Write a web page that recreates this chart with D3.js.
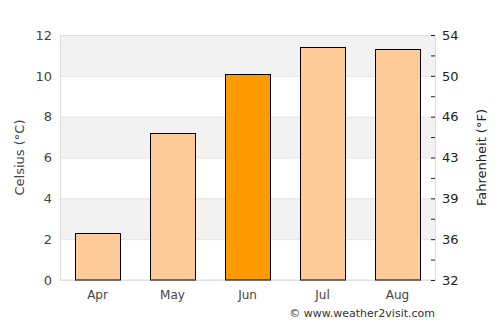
<!DOCTYPE html>
<html>
<head>
<meta charset="utf-8">
<script src="https://cdn.jsdelivr.net/npm/d3@7"></script>
<style>
  body { margin: 0; background: #fff; }
  text { font-family: "DejaVu Sans", sans-serif; }
</style>
</head>
<body>
<div id="vis"><svg></svg></div>
<script>
// data
const months = ["Apr", "May", "Jun", "Jul", "Aug"];
const celsius = [2.3, 7.2, 10.1, 11.4, 11.3];
const highlight = "Jun";
const cTicks = [0, 2, 4, 6, 8, 10, 12];
const fMinorTicks = [1, 3, 5, 7, 9, 11];

var margin = {top: 35, right: 65, bottom: 45, left: 60},
    width = 500 - margin.left - margin.right,
    height = 325 - margin.top - margin.bottom;

var svg = d3.select("#vis").select("svg")
    .attr("width", 500)
    .attr("height", 325);

var g = svg.append("g")
    .attr("transform", "translate(" + margin.left + "," + margin.top + ")");

let x = d3.scaleBand()
    .domain(months)
    .range([0, width])
    .paddingInner(0.4)
    .paddingOuter(0.2);

let y = d3.scaleLinear()
    .domain([0, 12])
    .range([height, 0]);

// alternating bands
g.selectAll("rect.band")
  .data(cTicks.slice(0, -1))
  .join("rect")
    .attr("class", "band")
    .attr("x", 0)
    .attr("width", width)
    .attr("y", d => y(d + 2))
    .attr("height", d => y(d) - y(d + 2))
    .attr("fill", d => (d / 2) % 2 == 1 ? "#f2f2f2" : "#fff");

// grid lines
g.selectAll("line.grid")
  .data(cTicks)
  .join("line")
    .attr("class", "grid")
    .attr("x1", 0).attr("x2", width)
    .attr("y1", d => y(d) + 0.5).attr("y2", d => y(d) + 0.5)
    .attr("stroke", "#e2e2e2");

g.append("rect")
  .attr("x", 0.5).attr("y", 0.5)
  .attr("width", width).attr("height", height - 0.5)
  .attr("fill", "none")
  .attr("stroke", "#dddddd");

// bars
g.selectAll("rect.bar")
  .data(months)
  .join("rect")
    .attr("class", "bar")
    .attr("x", d => Math.round(x(d)) + 0.5)
    .attr("width", Math.round(x.bandwidth()))
    .attr("y", (d, i) => Math.round(y(celsius[i])) + 0.5)
    .attr("height", (d, i) => height - Math.round(y(celsius[i])) - 0.5)
    .attr("fill", d => d == highlight ? "#ff9900" : "#ffcc99")
    .attr("stroke", "#000")
    .attr("stroke-width", 1);

// left axis
const leftAxis = g.append("g")
  .call(d3.axisLeft(y).tickValues(cTicks).tickSize(0).tickPadding(8));
leftAxis.select(".domain").remove();
leftAxis.selectAll("text")
  .attr("font-size", "13px")
  .attr("fill", "#444");

// right axis, fahrenheit labels on celsius positions
const rightAxis = g.append("g")
  .attr("transform", `translate(${width},0)`)
  .call(d3.axisRight(y).tickValues(cTicks).tickSize(-4).tickPadding(7)
        .tickFormat(d => Math.round(d * 1.8 + 32)));
rightAxis.select(".domain").remove();
rightAxis.selectAll("line").attr("stroke", "#222");
rightAxis.selectAll("text")
  .attr("font-size", "13px")
  .attr("fill", "#222");

g.append("g")
  .attr("transform", `translate(${width},0)`)
  .selectAll("line")
  .data(fMinorTicks)
  .join("line")
    .attr("x1", -4).attr("x2", 0)
    .attr("y1", d => y(d) + 0.5).attr("y2", d => y(d) + 0.5)
    .attr("stroke", "#222");

// bottom axis
const xAxis = g.append("g")
  .attr("transform", `translate(0,${height})`)
  .call(d3.axisBottom(x).tickSize(0).tickPadding(10));
xAxis.select(".domain").remove();
xAxis.selectAll("text")
  .attr("font-size", "12px")
  .attr("fill", "#444");

// axis titles
svg.append("text")
  .attr("transform", `translate(24,${margin.top + height / 2}) rotate(-90)`)
  .attr("text-anchor", "middle")
  .attr("font-size", "13px")
  .attr("fill", "#444")
  .text("Celsius (°C)");

svg.append("text")
  .attr("transform", `translate(486,${margin.top + height / 2}) rotate(-90)`)
  .attr("text-anchor", "middle")
  .attr("font-size", "13px")
  .attr("fill", "#222")
  .text("Fahrenheit (°F)");

svg.append("text")
  .attr("x", margin.left + width)
  .attr("y", 317)
  .attr("text-anchor", "end")
  .attr("font-size", "11px")
  .attr("fill", "#333")
  .text("© www.weather2visit.com");
</script>
</body>
</html>
